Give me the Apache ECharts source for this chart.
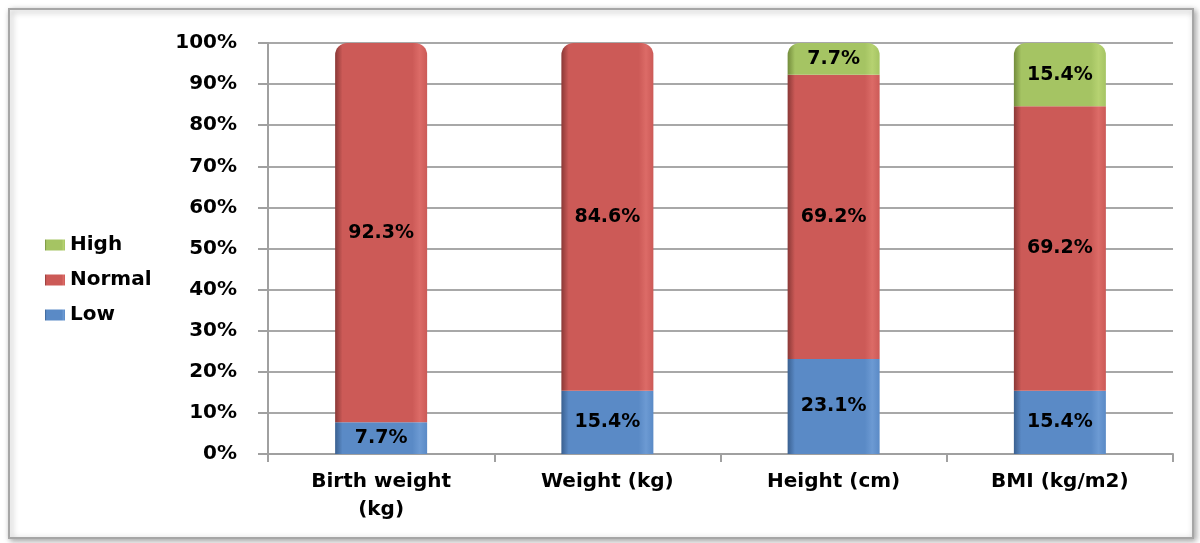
<!DOCTYPE html>
<html>
<head>
<meta charset="utf-8">
<script src="https://cdn.jsdelivr.net/npm/echarts@6/dist/echarts.min.js"></script>
<style>
  html, body { margin: 0; padding: 0; background: #fff; }
  #chart { width: 1200px; height: 543px; }
</style>
</head>
<body>
<div id="chart"></div>
<script>
    // categories and percentages
    var categories = ['Birth weight\n(kg)', 'Weight (kg)', 'Height (cm)', 'BMI (kg/m2)'];
    var lowValues = [7.7, 15.4, 23.1, 15.4];
    var normalValues = [92.3, 84.6, 69.2, 69.2];
    var highValues = [0, 0, 7.7, 15.4];
    var yTicks = [0, 10, 20, 30, 40, 50, 60, 70, 80, 90, 100];

    var mychart = echarts.init(document.getElementById('chart'));

    function grad(dark, base, light) {
        return new echarts.graphic.LinearGradient(0, 0, 1, 0, [
            {offset: 0, color: dark},
            {offset: 0.08, color: base},
            {offset: 0.84, color: base},
            {offset: 0.92, color: light},
            {offset: 1, color: base}
        ]);
    }

    var stacks = [
        {name: 'Low', values: lowValues, color: grad('#3a6090', '#5a8ac6', '#6c9ad3'), legend: '#4f81bd'},
        {name: 'Normal', values: normalValues, color: grad('#8a3836', '#cc5a57', '#dc6b67'), legend: '#c0504d'},
        {name: 'High', values: highValues, color: grad('#738c3c', '#a5c463', '#b6d271'), legend: '#9bbb59'}
    ];

    // which series is the top one for each category (gets the rounded corners)
    function topIndex(c) {
        var t = 0;
        for (var s = 0; s < stacks.length; s++) {
            if (stacks[s].values[c] > 0) t = s;
        }
        return t;
    }

    var series = stacks.map(function (st, s) {
        return {
            name: st.name,
            type: 'bar',
            stack: 'all',
            barWidth: 92,
            itemStyle: {color: st.color},
            label: {
                show: true,
                position: 'inside',
                color: '#000',
                fontFamily: 'DejaVu Sans',
                fontWeight: 'bold',
                fontSize: 19,
                formatter: function (p) {
                    return p.value > 0 ? p.value.toFixed(1) + '%' : '';
                }
            },
            data: st.values.map(function (v, c) {
                var item = {value: v};
                if (topIndex(c) === s) {
                    item.itemStyle = {borderRadius: [12, 12, 0, 0]};
                }
                return item;
            })
        };
    });

    mychart.setOption({
        animation: false,
        textStyle: {fontFamily: 'DejaVu Sans'},
        color: stacks.map(function (st) { return st.legend; }),
        graphic: [{
            type: 'rect',
            shape: {x: 9, y: 9, width: 1184, height: 529},
            style: {
                fill: '#fff',
                stroke: '#a6a6a6',
                lineWidth: 2,
                shadowBlur: 6,
                shadowColor: 'rgba(0,0,0,0.35)',
                shadowOffsetX: 2,
                shadowOffsetY: 2
            },
            z: -10
        }],
        legend: {
            orient: 'vertical',
            left: 40,
            top: 230,
            itemGap: 15,
            itemWidth: 20,
            itemHeight: 11,
            icon: 'rect',
            data: ['High', 'Normal', 'Low'],
            textStyle: {fontFamily: 'DejaVu Sans', fontWeight: 'bold', fontSize: 20, lineHeight: 20, color: '#000', padding: [0, 0, 0, 0]}
        },
        grid: {left: 268, right: 27, top: 43, bottom: 89},
        xAxis: {
            type: 'category',
            data: categories,
            axisLine: {lineStyle: {color: '#a0a0a0', width: 2}},
            axisTick: {show: true, length: 8, lineStyle: {color: '#a0a0a0', width: 2}},
            axisLabel: {
                color: '#000',
                fontFamily: 'DejaVu Sans',
                fontWeight: 'bold',
                fontSize: 20,
                lineHeight: 28,
                margin: 14
            }
        },
        yAxis: {
            type: 'value',
            min: yTicks[0],
            max: yTicks[yTicks.length - 1],
            interval: 10,
            axisLine: {show: true, lineStyle: {color: '#a0a0a0', width: 2}},
            axisTick: {show: true, length: 10, lineStyle: {color: '#a0a0a0', width: 2}},
            splitLine: {lineStyle: {color: '#a8a8a8', width: 2}},
            axisLabel: {
                color: '#000',
                fontFamily: 'DejaVu Sans',
                fontWeight: 'bold',
                fontSize: 20,
                margin: 31,
                formatter: '{value}%'
            }
        },
        series: series
    });
</script>
</body>
</html>
